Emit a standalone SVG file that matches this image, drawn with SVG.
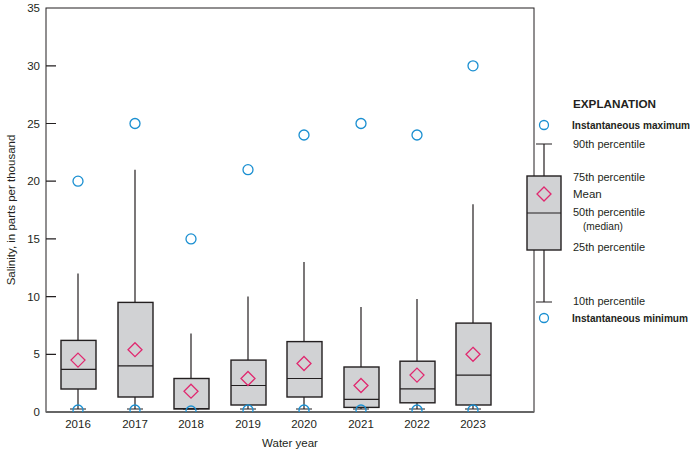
<svg xmlns="http://www.w3.org/2000/svg" width="695" height="452" viewBox="0 0 695 452">
<style>
text{font-family:"Liberation Sans",Arial,sans-serif;font-size:11.5px;fill:#231f20}
.b{font-weight:bold}
.box{fill:#d1d2d4;stroke:#231f20;stroke-width:1.4}
.w{stroke:#231f20;stroke-width:1.2;fill:none}
.c{fill:none;stroke:#1a8fd1;stroke-width:1.3}
.m{fill:none;stroke:#e0286f;stroke-width:1.3}
</style>
<defs>
<clipPath id="pc"><rect x="46" y="8" width="488" height="404"/></clipPath>
<path id="dia" d="M0,-7 L7,0 L0,7 L-7,0 Z"/>
</defs>
<rect width="695" height="452" fill="#fff"/>
<g id="axes">
<rect x="46" y="8" width="488" height="404" fill="none" stroke="#231f20" stroke-width="1"/>
<line x1="46" y1="412" x2="534" y2="412" stroke="#666" stroke-width="2"/>
<g class="w">
<path d="M46,354.3h10M46,296.6h10M46,238.9h10M46,181.2h10M46,123.5h10M46,65.8h10"/>
</g>
<g text-anchor="end">
<text x="40" y="416">0</text><text x="40" y="358">5</text><text x="40" y="301">10</text><text x="40" y="243">15</text><text x="40" y="185">20</text><text x="40" y="128">25</text><text x="40" y="70">30</text><text x="40" y="12">35</text>
</g>
<g text-anchor="middle">
<text x="78" y="428">2016</text><text x="135" y="428">2017</text><text x="191" y="428">2018</text><text x="248" y="428">2019</text><text x="304" y="428">2020</text><text x="361" y="428">2021</text><text x="417" y="428">2022</text><text x="473" y="428">2023</text>
<text x="290" y="447" font-size="12.5">Water year</text>
<text transform="translate(15,210) rotate(-90)" font-size="12">Salinity, in parts per thousand</text>
</g>
</g>
<g id="connectors" class="w">
<path d="M78,340.4V273.5M78,389V409M70,409h16"/>
<path d="M135,169.7V302.4M135,397V409M127,409h16"/>
<path d="M191,333.5V378.5M183,409h16"/>
<path d="M248,296.6V360.1M248,405V409M240,409h16"/>
<path d="M304,262V341.6M304,397V409M296,409h16"/>
<path d="M361,307V367M361,407.4V409M353,409h16"/>
<path d="M417,299V361.2M417,402.8V409M409,409h16"/>
<path d="M473,204.3V323.1M473,405V409M465,409h16"/>
</g>
<g id="boxes">
<g id="y2016"><rect class="box" x="61" y="340.4" width="35" height="48.6"/><line class="w" x1="61" x2="96" y1="369.3" y2="369.3"/></g>
<g id="y2017"><rect class="box" x="118" y="302.4" width="35" height="94.6"/><line class="w" x1="118" x2="153" y1="365.8" y2="365.8"/></g>
<g id="y2018"><rect class="box" x="174" y="378.5" width="35" height="30.5"/><line class="w" x1="174" x2="209" y1="408.5" y2="408.5"/></g>
<g id="y2019"><rect class="box" x="231" y="360.1" width="35" height="44.9"/><line class="w" x1="231" x2="266" y1="385.5" y2="385.5"/></g>
<g id="y2020"><rect class="box" x="287" y="341.6" width="35" height="55.4"/><line class="w" x1="287" x2="322" y1="378.5" y2="378.5"/></g>
<g id="y2021"><rect class="box" x="344" y="367" width="35" height="40.4"/><line class="w" x1="344" x2="379" y1="399.3" y2="399.3"/></g>
<g id="y2022"><rect class="box" x="400" y="361.2" width="35" height="41.6"/><line class="w" x1="400" x2="435" y1="388.9" y2="388.9"/></g>
<g id="y2023"><rect class="box" x="456" y="323.1" width="35" height="81.9"/><line class="w" x1="456" x2="491" y1="375.1" y2="375.1"/></g>
</g>
<g id="means" class="m">
<use href="#dia" x="78" y="360.1"/><use href="#dia" x="135" y="349.7"/><use href="#dia" x="191" y="391.2"/><use href="#dia" x="248" y="378.5"/><use href="#dia" x="304" y="363.5"/><use href="#dia" x="361" y="385.5"/><use href="#dia" x="417" y="375.1"/><use href="#dia" x="473" y="354.3"/>
</g>
<g id="maxima" class="c">
<circle cx="78" cy="181.2" r="5"/><circle cx="135" cy="123.5" r="5"/><circle cx="191" cy="238.9" r="5"/><circle cx="248" cy="169.7" r="5"/><circle cx="304" cy="135" r="5"/><circle cx="361" cy="123.5" r="5"/><circle cx="417" cy="135" r="5"/><circle cx="473" cy="65.8" r="5"/>
</g>
<g id="minima" class="c" clip-path="url(#pc)">
<circle cx="78" cy="410" r="5"/><circle cx="135" cy="410" r="5"/><circle cx="191" cy="411" r="5"/><circle cx="248" cy="410" r="5"/><circle cx="304" cy="410" r="5"/><circle cx="361" cy="410" r="5"/><circle cx="417" cy="410" r="5"/><circle cx="473" cy="410" r="5"/>
</g>
<g id="legend">
<text x="573" y="108" class="b" font-size="12.5" textLength="83" lengthAdjust="spacingAndGlyphs">EXPLANATION</text>
<circle class="c" cx="544" cy="125" r="4.5"/>
<text x="572" y="129" class="b" font-size="10" textLength="118" lengthAdjust="spacingAndGlyphs">Instantaneous maximum</text>
<path class="w" d="M536,144h16M544,144V176M544,250V302M536,302h16"/>
<rect class="box" x="527" y="176" width="34" height="74"/>
<line class="w" x1="527" x2="561" y1="213" y2="213"/>
<use href="#dia" x="544" y="194" class="m"/>
<circle class="c" cx="544" cy="318" r="4.5"/>
<text x="573" y="148" textLength="72" lengthAdjust="spacingAndGlyphs">90th percentile</text>
<text x="573" y="181" textLength="72" lengthAdjust="spacingAndGlyphs">75th percentile</text>
<text x="573" y="198">Mean</text>
<text x="573" y="216" textLength="72" lengthAdjust="spacingAndGlyphs">50th percentile</text>
<text x="583" y="230" textLength="40" lengthAdjust="spacingAndGlyphs">(median)</text>
<text x="573" y="251" textLength="72" lengthAdjust="spacingAndGlyphs">25th percentile</text>
<text x="573" y="305" textLength="72" lengthAdjust="spacingAndGlyphs">10th percentile</text>
<text x="572" y="322" class="b" font-size="10" textLength="116" lengthAdjust="spacingAndGlyphs">Instantaneous minimum</text>
</g>
</svg>
